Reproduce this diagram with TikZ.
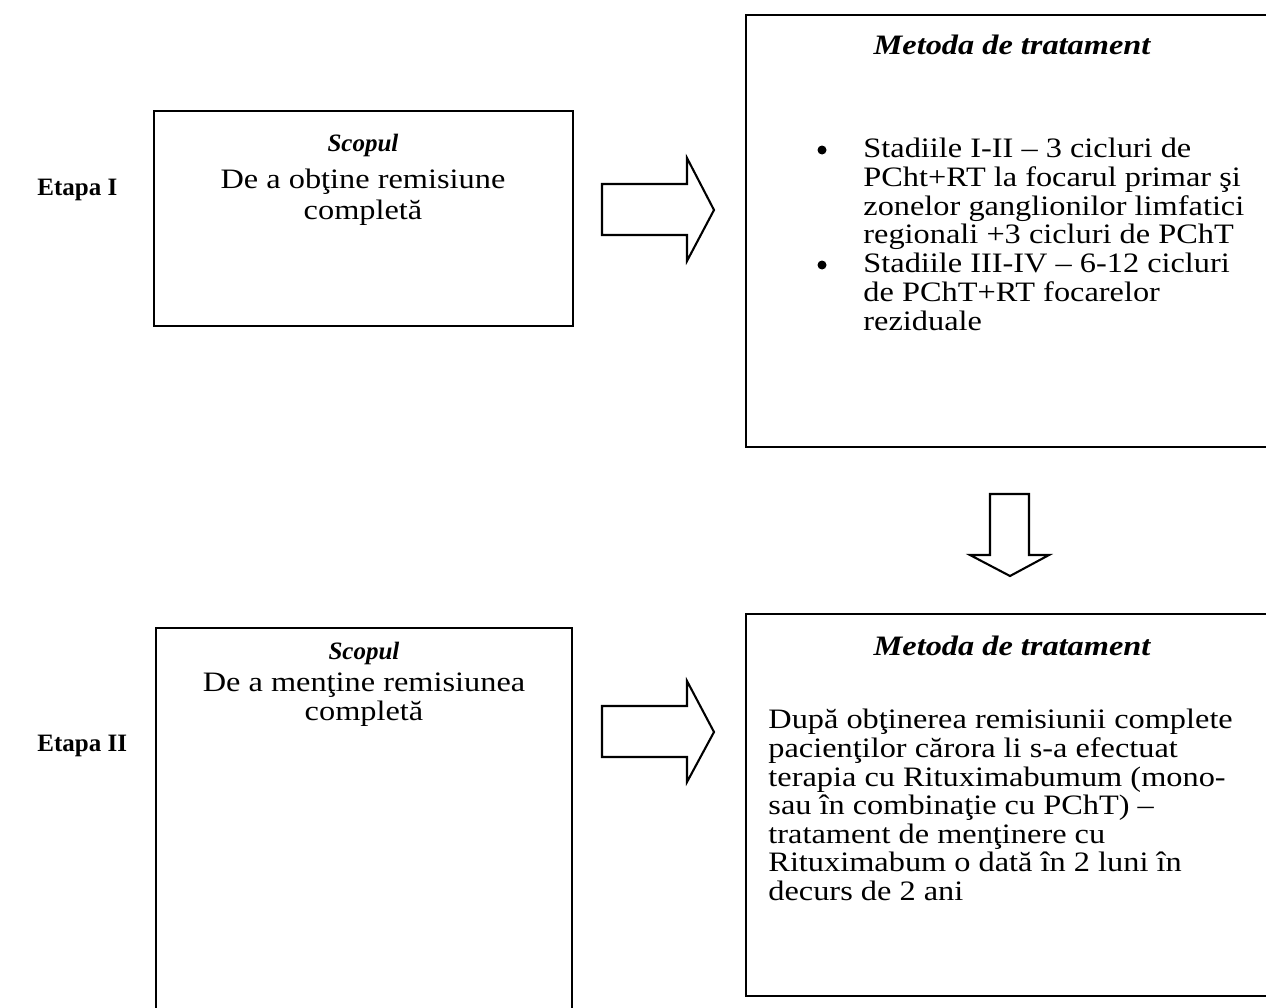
\documentclass[tikz,border=0pt]{standalone}
\usepackage{fontspec}
\setmainfont{Liberation Serif}
\newfontfamily\widefont[FakeStretch=1.15]{Liberation Serif}
\begin{document}
\begin{tikzpicture}[x=0.48pt,y=-0.48pt,
  frame/.style={line width=1pt},
  blockarrow/.style={line width=1pt, line join=miter, fill=white},
  txt/.style={font=\widefont\fontsize{13.5}{14}\selectfont, inner sep=0pt, anchor=base},
  txtl/.style={txt, anchor=base west},
  ttl/.style={txt, font=\widefont\fontsize{13.5}{14}\selectfont\bfseries\itshape},
  scp/.style={txt, font=\fontsize{12}{14}\selectfont\bfseries\itshape},
  dot/.style={circle, fill=black, inner sep=0pt, minimum size=9pt*0.48},
  etapa/.style={txtl, font=\fontsize{12}{14}\selectfont\bfseries}]
\useasboundingbox (0,0) rectangle (1266,1007);
\clip (0,0) rectangle (1266,1007);
\fill[white] (0,0) rectangle (1266,1007);

% boxes
\draw[frame] (154,111) rectangle (573,326);
\draw[frame] (746,15) rectangle (1280,447);
\draw[frame] (156,628) rectangle (572,1030);
\draw[frame] (746,614) rectangle (1280,996);

% block arrows
\draw[blockarrow] (602,184) -- (687,184) -- (687,158) -- (714,210) -- (687,261) -- (687,235) -- (602,235) -- cycle;
\draw[blockarrow] (602,706) -- (687,706) -- (687,681) -- (714,732) -- (687,782) -- (687,757) -- (602,757) -- cycle;
\draw[blockarrow] (990,494) -- (1029,494) -- (1029,555) -- (1049,555) -- (1010,576) -- (970,555) -- (990,555) -- cycle;

% labels
\node[etapa] (e1) at (37,195) {Etapa I};
\node[etapa] (e2) at (37,751) {Etapa II};

% top left box
\node[scp] (s1) at (363,151) {Scopul};
\node[txt] (s1a) at (363,188) {De a obţine remisiune};
\node[txt] (s1b) at (363,219) {completă};

% top right box
\node[ttl] (m1) at (1012,54) {Metoda de tratament};
\node[dot] (bu1) at (822,150) {};
\node[dot] (bu2) at (822,265) {};
\node[txtl] (t1) at (863,157) {Stadiile I-II – 3 cicluri de};
\node[txtl] (t2) at (863,186) {PCht+RT la focarul primar şi};
\node[txtl] (t3) at (863,215) {zonelor ganglionilor limfatici};
\node[txtl] (t4) at (863,243) {regionali +3 cicluri de PChT};
\node[txtl] (t5) at (863,272) {Stadiile III-IV – 6-12 cicluri};
\node[txtl] (t6) at (863,301) {de PChT+RT focarelor};
\node[txtl] (t7) at (863,330) {reziduale};

% bottom left box
\node[scp] (s2) at (364,659) {Scopul};
\node[txt] (s2a) at (364,691) {De a menţine remisiunea};
\node[txt] (s2b) at (364,720) {completă};

% bottom right box
\node[ttl] (m2) at (1012,655) {Metoda de tratament};
\node[txtl] (u1) at (768,728) {După obţinerea remisiunii complete};
\node[txtl] (u2) at (768,757) {pacienţilor cărora li s-a efectuat};
\node[txtl] (u3) at (768,786) {terapia cu Rituximabumum (mono-};
\node[txtl] (u4) at (768,814) {sau în combinaţie cu PChT) –};
\node[txtl] (u5) at (768,843) {tratament de menţinere cu};
\node[txtl] (u6) at (768,871) {Rituximabum o dată în 2 luni în};
\node[txtl] (u7) at (768,900) {decurs de 2 ani};
\end{tikzpicture}
\end{document}
